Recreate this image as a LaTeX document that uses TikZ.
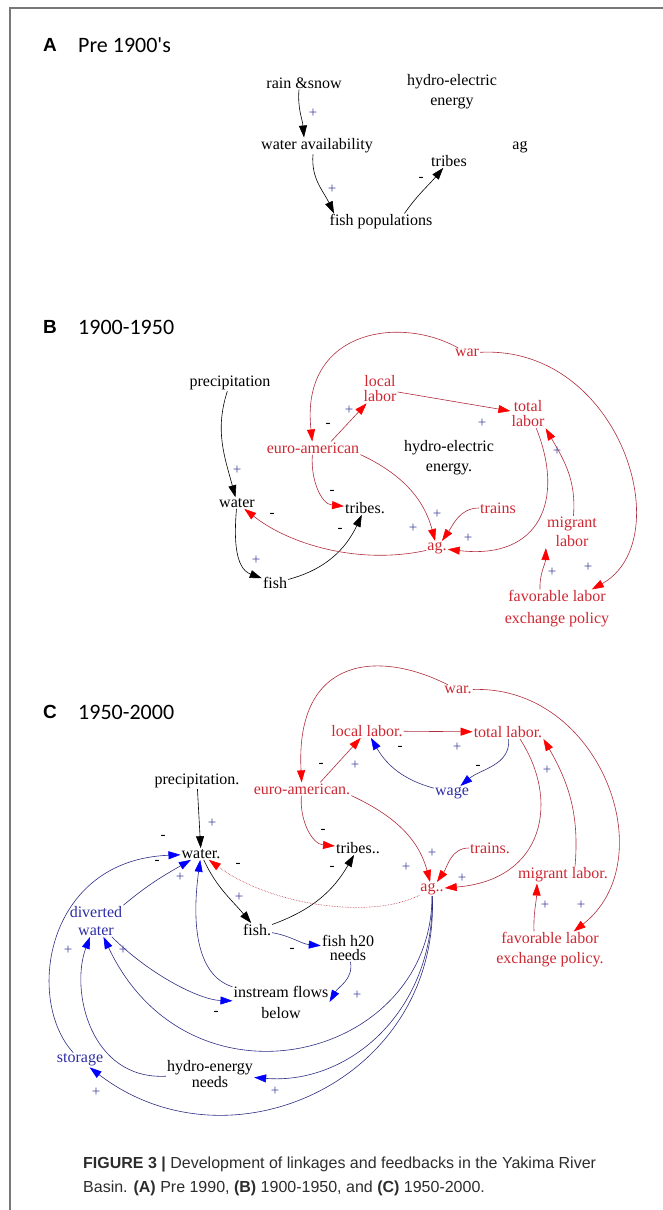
\documentclass[tikz,border=0pt]{standalone}
\usepackage{fontspec}
\setmainfont{Liberation Serif}
\newfontfamily\capfont{Liberation Sans}
\newfontfamily\ttlfont{Carlito}
\usetikzlibrary{arrows.meta}
\definecolor{lnred}{RGB}{175,45,60}
\definecolor{txred}{RGB}{205,40,50}
\definecolor{lnblue}{RGB}{45,45,130}
\definecolor{txblue}{RGB}{45,45,165}
\definecolor{sgblue}{RGB}{70,70,160}
\definecolor{frame}{RGB}{120,120,120}
\definecolor{captxt}{RGB}{45,45,45}

\begin{document}
\begin{tikzpicture}[x=1pt,y=-1pt]
            \tikzset{vertex/.style = {inner sep=1pt, align=center, font=\fontsize{16}{18}\selectfont}}
            \tikzset{rvertex/.style = {vertex, text=txred}}
            \tikzset{uvertex/.style = {vertex, text=txblue}}
            \tikzset{tight/.style = {font=\fontsize{16}{15}\selectfont}}
            \tikzset{plus/.style = {inner sep=0pt, text=sgblue, font=\fontsize{15}{15}\selectfont}}
            \tikzset{minus/.style = {inner sep=0pt, font=\fontsize{15}{15}\selectfont}}
            \tikzset{letter/.style = {inner sep=0pt, font=\capfont\bfseries\fontsize{19}{19}\selectfont}}
            \tikzset{title/.style = {anchor=west, inner sep=0pt, font=\ttlfont\fontsize{22}{22}\selectfont}}
            \tikzset{edge/.style = {line width=.6pt, -{Triangle[length=12pt,width=8pt]}}}
            \tikzset{redge/.style = {line width=.6pt, draw=lnred, -{Triangle[length=12pt,width=8pt,color=red]}}}
            \tikzset{uedge/.style = {line width=.6pt, draw=lnblue, -{Triangle[length=12pt,width=8pt,color=blue]}}}
            \useasboundingbox (0,0) rectangle (663,1210);
            \draw[frame, line width=1.2pt] (10,1210) -- (10,8) -- (663,8);

            % A
            \node[letter] (la) at (50,45) {A};
            \node[title] (ta) at (78,45) {Pre 1900's};
            \node[vertex] (a1) at (304,83) {rain \&snow};
            \node[vertex, font=\fontsize{16}{20}\selectfont] (a2) at (452,92) {hydro-electric\\energy};
            \node[vertex] (a3) at (317,146) {water availability};
            \node[vertex] (a4) at (520,147) {ag};
            \node[vertex] (a5) at (449,161) {tribes};
            \node[vertex] (a6) at (381,222) {fish populations};

            \draw[edge] ([xshift=-5pt]a1.south) to[out=-95,in=95] ([xshift=-13pt]a3.north);
            \draw[edge] ([xshift=-4pt]a3.south) to[out=-95,in=115] ([xshift=-47pt]a6.north);
            \draw[edge] (a6.20) to[out=55,in=-130] (a5);
            \node[plus] (sa1) at (313,113) {+};
            \node[plus] (sa2) at (332,189) {+};
            \node[minus] (sa3) at (421,179) {-};

            % B
            \node[letter] (lb) at (50,327) {B};
            \node[title] (tb) at (78,327) {1900-1950};
            \node[vertex] (b1) at (230,383) {precipitation};
            \node[rvertex] (b2) at (467,353) {war};
            \node[rvertex, tight] (b3) at (380,389) {local\\labor};
            \node[rvertex, tight] (b4) at (528,414) {total\\labor};
            \node[rvertex] (b5) at (313,448) {euro-american};
            \node[vertex, font=\fontsize{16}{20}\selectfont] (b6) at (449,458) {hydro-electric\\energy.};
            \node[vertex] (b7) at (237,503) {water};
            \node[vertex] (b8) at (365,508) {tribes.};
            \node[rvertex] (b9) at (498,508) {trains};
            \node[rvertex, font=\fontsize{16}{19}\selectfont] (b10) at (572,532) {migrant\\labor};
            \node[rvertex] (b11) at (437,548) {ag.};
            \node[vertex] (b12) at (275,583) {fish};
            \node[rvertex, font=\fontsize{16}{22}\selectfont] (b13) at (557,609) {favorable labor\\exchange policy};

            \draw[edge] (b1) to[out=-108,in=105] (b7);
            \draw[edge] (b7) to[out=-95,in=160] (b12);
            \draw[edge] (b12) to[out=15,in=-115] (b8);
            \draw[redge] (b5) to[out=-95,in=175] (b8);
            \draw[redge] (b5.20) to (b3);
            \draw[redge] (b2) .. controls (400,315) and (300,330) .. (b5);
            \draw[redge] (b2) .. controls (620,345) and (680,540) .. (b13);
            \draw[redge] (b3) to (b4);
            \draw[redge] (b4.-60) .. controls (565,500) and (540,560) .. (b11);
            \draw[redge] (b10) to[out=85,in=-60] (b4.south east);
            \draw[redge] ([xshift=-17pt]b13.north) to[out=92,in=-92] (b10.south west);
            \draw[redge] (b5.south east) to[out=-25,in=105] (b11);
            \draw[redge] (b9) to[out=180,in=55] (b11);
            \draw[redge] (b11) .. controls (360,565) and (290,545) .. (b7);
            \node[plus] (sb1) at (237,470) {+};
            \node[plus] (sb2) at (256,560) {+};
            \node[minus] (sb3) at (340,530) {-};
            \node[minus] (sb4) at (332,492) {-};
            \node[plus] (sb5) at (349,410) {+};
            \node[minus] (sb6) at (328,425) {-};
            \node[plus] (sb7) at (588,567) {+};
            \node[plus] (sb8) at (482,423) {+};
            \node[plus] (sb9) at (557,451) {+};
            \node[plus] (sb10) at (552,572) {+};
            \node[plus] (sb11) at (413,528) {+};
            \node[plus] (sb12) at (437,514) {+};
            \node[plus] (sb13) at (468,538) {+};
            \node[minus] (sb14) at (272,515) {-};

            % C
            \node[letter] (lc) at (50,712) {C};
            \node[title] (tc) at (78,712) {1950-2000};
            \node[rvertex] (c1) at (458,690) {war.};
            \node[rvertex] (c2) at (367,731) {local labor.};
            \node[rvertex] (c3) at (508,732) {total labor.};
            \node[vertex] (c4) at (197,781) {precipitation.};
            \node[rvertex] (c5) at (302,789) {euro-american.};
            \node[uvertex] (c6) at (452,793) {wage};
            \node[vertex] (c7) at (201,854) {water.};
            \node[vertex] (c8) at (358,848) {tribes..};
            \node[rvertex] (c9) at (490,848) {trains.};
            \node[rvertex] (c10) at (563,875) {migrant labor.};
            \node[rvertex] (c11) at (432,889) {ag..};
            \node[uvertex] (c12) at (96,921) {diverted\\water};
            \node[vertex] (c13) at (257,930) {fish.};
            \node[vertex, font=\fontsize{16}{14}\selectfont] (c14) at (348,948) {fish h20\\needs};
            \node[rvertex, font=\fontsize{16}{20}\selectfont] (c15) at (550,950) {favorable labor\\exchange policy.};
            \node[vertex, font=\fontsize{16}{21}\selectfont] (c16) at (281,1002) {instream flows\\below};
            \node[uvertex] (c17) at (80,1060) {storage};
            \node[vertex, font=\fontsize{16}{12}\selectfont] (c18) at (210,1074) {hydro-energy\\needs};

            \draw[edge] (c4) to (c7);
            \draw[edge] (c7) to[out=-65,in=130] (c13);
            \draw[edge] (c13) to[out=20,in=-120] (c8);
            \draw[redge] (c5) to[out=-95,in=175] (c8);
            \draw[redge] (c5.20) to (c2);
            \draw[redge] (c1) .. controls (380,650) and (295,655) .. (c5);
            \draw[redge] (c1) .. controls (600,685) and (665,860) .. (c15);
            \draw[redge] (c2) to (c3);
            \draw[uedge] (c6) to[out=165,in=-60] (c2);
            \draw[uedge] (c3) to[out=-85,in=40] (c6);
            \draw[redge] (c5.south east) to[out=-25,in=105] (c11);
            \draw[redge] (c9) to[out=180,in=55] (c11);
            \draw[redge] (c3.-30) .. controls (560,800) and (545,880) .. (c11);
            \draw[redge] ([xshift=12pt]c10.north) to[out=85,in=-60] (c3.south east);
            \draw[redge] ([xshift=-16pt]c15.north) to[out=92,in=-92] ([xshift=-26pt]c10.south);
            \draw[redge, densely dotted] (c11) .. controls (370,920) and (270,905) .. (c7);
            \draw[uedge] (c13) to[out=-10,in=175] (c14);
            \draw[uedge] (c14) to[out=-80,in=60] (c16.east);
            \draw[uedge] (c12) .. controls (150,975) and (200,1000) .. (c16);
            \draw[uedge] (c12.north east) to[out=40,in=-150] (c7);
            \draw[uedge] (c16) .. controls (195,975) and (192,920) .. (c7);
            \draw[uedge] (c17) .. controls (25,1000) and (45,860) .. (c7);
            \draw[uedge] (c18) .. controls (90,1080) and (70,990) .. (c12);
            \draw[uedge] (c11) .. controls (432,1060) and (190,1120) .. (c12);
            \draw[uedge] (c11) .. controls (435,1010) and (350,1085) .. (c18);
            \draw[uedge] (c11) .. controls (440,1080) and (230,1175) .. (c17);
            \node[minus] (sc1) at (163,837) {-};
            \node[minus] (sc2) at (157,862) {-};
            \node[plus] (sc3) at (180,877) {+};
            \node[plus] (sc4) at (212,823) {+};
            \node[minus] (sc5) at (238,865) {-};
            \node[plus] (sc6) at (239,897) {+};
            \node[minus] (sc7) at (332,868) {-};
            \node[minus] (sc8) at (323,831) {-};
            \node[minus] (sc9) at (321,765) {-};
            \node[plus] (sc10) at (355,765) {+};
            \node[minus] (sc11) at (400,748) {-};
            \node[plus] (sc12) at (457,747) {+};
            \node[minus] (sc13) at (478,767) {-};
            \node[plus] (sc14) at (547,770) {+};
            \node[plus] (sc15) at (406,867) {+};
            \node[plus] (sc16) at (432,853) {+};
            \node[plus] (sc17) at (462,878) {+};
            \node[plus] (sc18) at (545,905) {+};
            \node[plus] (sc19) at (581,905) {+};
            \node[minus] (sc20) at (292,950) {-};
            \node[plus] (sc21) at (357,995) {+};
            \node[minus] (sc22) at (216,1013) {-};
            \node[plus] (sc23) at (68,950) {+};
            \node[plus] (sc24) at (123,950) {+};
            \node[plus] (sc25) at (96,1092) {+};
            \node[plus] (sc26) at (275,1091) {+};

            % caption
            \node[anchor=base west, inner sep=0pt, text=captxt, font=\capfont\fontsize{16}{16}\selectfont] (cap1) at (83,1168) {\textbf{FIGURE 3 |} Development of linkages and feedbacks in the Yakima River};
            \node[anchor=base west, inner sep=0pt, text=captxt, font=\capfont\fontsize{16}{16}\selectfont] (cap2) at (83,1192) {Basin. \textbf{(A)} Pre 1990, \textbf{(B)} 1900-1950, and \textbf{(C)} 1950-2000.};
        \end{tikzpicture}
\end{document}
